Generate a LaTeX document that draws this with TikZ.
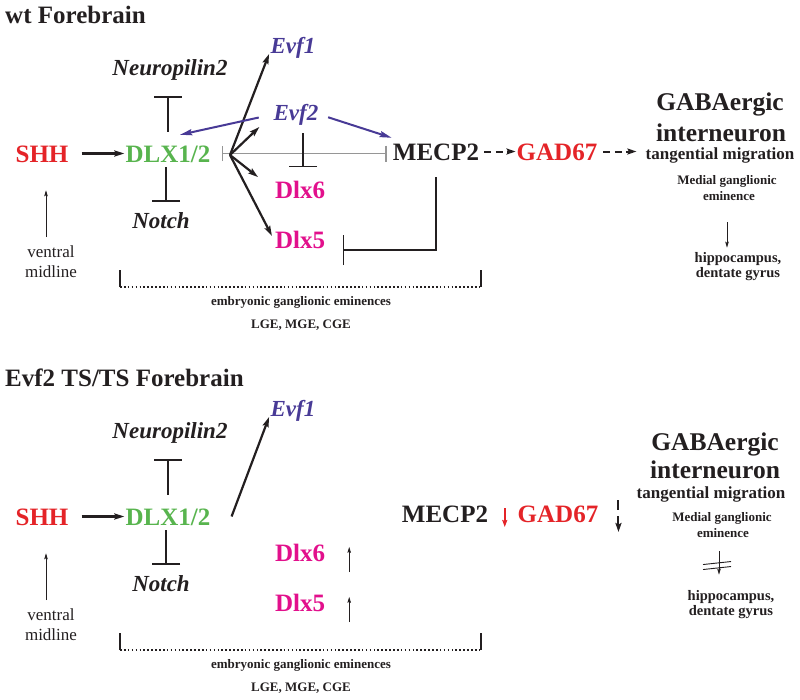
\documentclass[tikz,border=0pt]{standalone}
\usepackage{fontspec}
\setmainfont{Liberation Serif}
\usetikzlibrary{arrows.meta}

\definecolor{shhred}{RGB}{228,36,40}
\definecolor{dlxgreen}{RGB}{88,180,78}
\definecolor{evfblue}{RGB}{72,58,150}
\definecolor{dlxpink}{RGB}{226,16,140}
\definecolor{ink}{RGB}{35,31,32}
\definecolor{inhgray}{RGB}{150,150,150}

\tikzset{
  gene/.style={font=\fontsize{25}{25}\selectfont\bfseries, inner sep=1pt, text height=17pt, text depth=0pt, anchor=base, text=ink},
  ital/.style={font=\fontsize{23}{23}\selectfont\bfseries\itshape, inner sep=1pt, text height=16pt, text depth=5pt, anchor=base, text=ink},
  panel/.style={font=\fontsize{25}{25}\selectfont\bfseries, inner sep=0pt, anchor=base west, text=ink},
  big/.style={font=\fontsize{25.5}{25.5}\selectfont\bfseries, inner sep=0pt, anchor=base, text=ink},
  mid/.style={font=\fontsize{17}{17}\selectfont\bfseries, inner sep=0pt, anchor=base, text=ink},
  note/.style={font=\fontsize{13}{13}\selectfont\bfseries, inner sep=1pt, anchor=base, text=ink},
  place/.style={font=\fontsize{14.5}{14.5}\selectfont\bfseries, inner sep=1pt, anchor=base, text=ink},
  plain/.style={font=\fontsize{17}{17}\selectfont, inner sep=1pt, anchor=base, text=ink},
  act/.style={draw=ink, -{Stealth[length=10pt,width=6pt,inset=1.5pt]}, line width=2.2pt},
  evfact/.style={draw=evfblue, -{Stealth[length=12pt,width=6pt,inset=1.5pt]}, line width=2pt},
  inh/.style={draw=ink, -{Bar[width=28pt]}, line width=1.4pt},
  grayinh/.style={draw=inhgray, {Bar[width=15pt]}-{Bar[width=16pt]}, line width=1.6pt},
  dasharr/.style={draw=ink, -{Stealth[length=9pt,width=6pt,inset=1.5pt]}, line width=2pt, dash pattern=on 7pt off 4.5pt},
  thinarr/.style={draw=ink, -{Stealth[length=6pt,width=3.5pt,inset=1pt]}, line width=0.9pt},
  dotline/.style={draw=ink, line width=1.6pt, dash pattern=on 1.6pt off 2.3pt},
  tick/.style={draw=ink, line width=1.2pt}
}

\begin{document}
\begin{tikzpicture}[x=1pt,y=-1pt]
\useasboundingbox (0,0) rectangle (800,699);

\node[panel] (title) at (5,23) {wt Forebrain};
\node[gene, text=shhred] (shh) at (42,162) {SHH};
\node[gene, text=dlxgreen] (dlx) at (168,162) {DLX1/2};
\node[ital] (nrp) at (170,75) {Neuropilin2};
\node[ital] (notch) at (161,228) {Notch};
\node[ital, text=evfblue] (evf1) at (293,53) {Evf1};
\node[ital, text=evfblue] (evf2) at (296,120) {Evf2};
\node[gene, text=dlxpink] (dlx6) at (300,198) {Dlx6};
\node[gene, text=dlxpink] (dlx5) at (300,248) {Dlx5};
\node[gene] (mecp) at (436,160) {MECP2};
\node[gene, text=shhred] (gad) at (557,160) {GAD67};
\node[big] (gaba) at (720,110) {GABAergic};
\node[big] (intn) at (721,141) {interneuron};
\node[mid] (tang) at (720,159) {tangential migration};
\node[note] (mge) at (727,184) {Medial ganglionic};
\node[note] (emin) at (729,200) {eminence};
\node[place] (hip) at (738,262) {hippocampus,};
\node[place] (dent) at (738,277) {dentate gyrus};
\node[plain] (vent) at (51,257) {ventral};
\node[plain] (midl) at (51,277) {midline};
\node[note] (emb) at (301,305) {embryonic ganglionic eminences};
\node[note] (lge) at (301,328) {LGE, MGE, CGE};
\coordinate (br) at (230,155);
\coordinate (gate) at (303,167);
\coordinate (stop5) at (343,250);
\coordinate (brl) at (120,287);
\coordinate (brr) at (481,287);

\draw[act, shorten <=12pt] (shh.east) -- (shh.east -| dlx.west);
\draw[inh, shorten <=12pt, shorten >=15pt] (dlx.north) -- (dlx.north |- nrp.south);
\draw[inh, shorten <=4pt, shorten >=9pt] ([xshift=-2pt]dlx.south) -- ([xshift=-2pt]dlx.south |- notch.north);
\draw[grayinh, shorten <=10pt, shorten >=5pt] (dlx.east) -- (dlx.east -| mecp.west);
\draw[act, shorten >=1pt] (br) -- (evf1.base west);
\draw[act, shorten >=18pt] (br) -- (evf2.west);
\draw[act, shorten >=20pt] (br) -- (dlx6.west);
\draw[act, shorten >=4pt] (br) -- (dlx5.west);
\draw[evfact, shorten <=14pt] (evf2.west) -- ([xshift=12pt,yshift=9pt]dlx.north);
\draw[evfact, shorten <=9pt] (evf2.east) -- ([yshift=4pt]mecp.north west);
\draw[inh, shorten <=7pt] (evf2.south -| gate) -- (gate);
\draw[inh, {}-{Bar[width=30pt]}, shorten <=16pt] (mecp.south) -- (mecp.south |- stop5) -- (stop5);
\draw[dasharr, shorten <=4pt] (mecp.east) -- (gad.west);
\draw[dasharr, shorten <=5pt, shorten >=9pt] (gad.east) -- (gad.east -| tang.west);
\draw[thinarr, shorten <=21pt, shorten >=3pt] ([xshift=-2pt]emin.south) -- ([xshift=-2pt]emin.south |- hip.north);
\draw[thinarr, shorten <=7pt, shorten >=27pt] ([xshift=-5pt]vent.north) -- ([xshift=-5pt]vent.north |- shh.south);
\draw[tick] (brl) -- ++(0,-17);
\draw[tick] (brr) -- ++(0,-17);
\draw[dotline] (brl) -- (brr);

\node[panel] (titleb) at (5,386) {Evf2 TS/TS Forebrain};
\node[gene, text=shhred] (shhb) at (42,525) {SHH};
\node[gene, text=dlxgreen] (dlxb) at (168,525) {DLX1/2};
\node[ital] (nrpb) at (170,438) {Neuropilin2};
\node[ital] (notchb) at (161,591) {Notch};
\node[ital, text=evfblue] (evf1b) at (293,416) {Evf1};
\node[gene, text=dlxpink] (dlx6b) at (300,561) {Dlx6};
\node[gene, text=dlxpink] (dlx5b) at (300,611) {Dlx5};
\node[gene] (mecpb) at (445,522) {MECP2};
\node[gene, text=shhred] (gadb) at (558,522) {GAD67};
\node[big] (gabab) at (715,450) {GABAergic};
\node[big] (intnb) at (715,478) {interneuron};
\node[mid] (tangb) at (711,498) {tangential migration};
\node[note] (mgeb) at (722,521) {Medial ganglionic};
\node[note] (eminb) at (723,537) {eminence};
\node[place] (hipb) at (731,600) {hippocampus,};
\node[place] (dentb) at (731,615) {dentate gyrus};
\node[plain] (ventb) at (51,620) {ventral};
\node[plain] (midlb) at (51,640) {midline};
\node[note] (embb) at (301,668) {embryonic ganglionic eminences};
\node[note] (lgeb) at (301,691) {LGE, MGE, CGE};
\coordinate (brlb) at (120,650);
\coordinate (brrb) at (481,650);

\draw[act, shorten <=12pt] (shhb.east) -- (shhb.east -| dlxb.west);
\draw[inh, shorten <=12pt, shorten >=15pt] (dlxb.north) -- (dlxb.north |- nrpb.south);
\draw[inh, shorten <=4pt, shorten >=9pt] ([xshift=-2pt]dlxb.south) -- ([xshift=-2pt]dlxb.south |- notchb.north);
\draw[act, shorten >=1pt] ([xshift=20pt]dlxb.east) -- (evf1b.base west);
\draw[thinarr] ([xshift=23pt,yshift=-10pt]dlx6b.south east) -- ([xshift=23pt,yshift=-4pt]dlx6b.north east);
\draw[thinarr] ([xshift=23pt,yshift=-10pt]dlx5b.south east) -- ([xshift=23pt,yshift=-4pt]dlx5b.north east);
\draw[draw=shhred, -{Stealth[length=7pt,width=5pt,inset=1pt]}, line width=1.5pt] ([xshift=15.5pt,yshift=5.5pt]mecpb.east) -- ([xshift=15.5pt,yshift=-13.5pt]mecpb.east);
\draw[dasharr, dash pattern=on 10pt off 6pt] ([xshift=19pt,yshift=13.5pt]gadb.east) -- ([xshift=19pt,yshift=-18.5pt]gadb.east);
\draw[thinarr, shorten <=13pt, shorten >=14pt] ([xshift=-4pt]eminb.south) -- coordinate[pos=.5] (cut) ([xshift=-4pt]eminb.south |- hipb.north);
\draw[line width=0.9pt, draw=ink] ([shift={(-16,1)}]cut) -- ([shift={(12,-2)}]cut);
\draw[line width=0.9pt, draw=ink] ([shift={(-16,6)}]cut) -- ([shift={(12,3)}]cut);
\draw[thinarr, shorten <=7pt, shorten >=27pt] ([xshift=-5pt]ventb.north) -- ([xshift=-5pt]ventb.north |- shhb.south);
\draw[tick] (brlb) -- ++(0,-17);
\draw[tick] (brrb) -- ++(0,-17);
\draw[dotline] (brlb) -- (brrb);
\end{tikzpicture}
\end{document}
